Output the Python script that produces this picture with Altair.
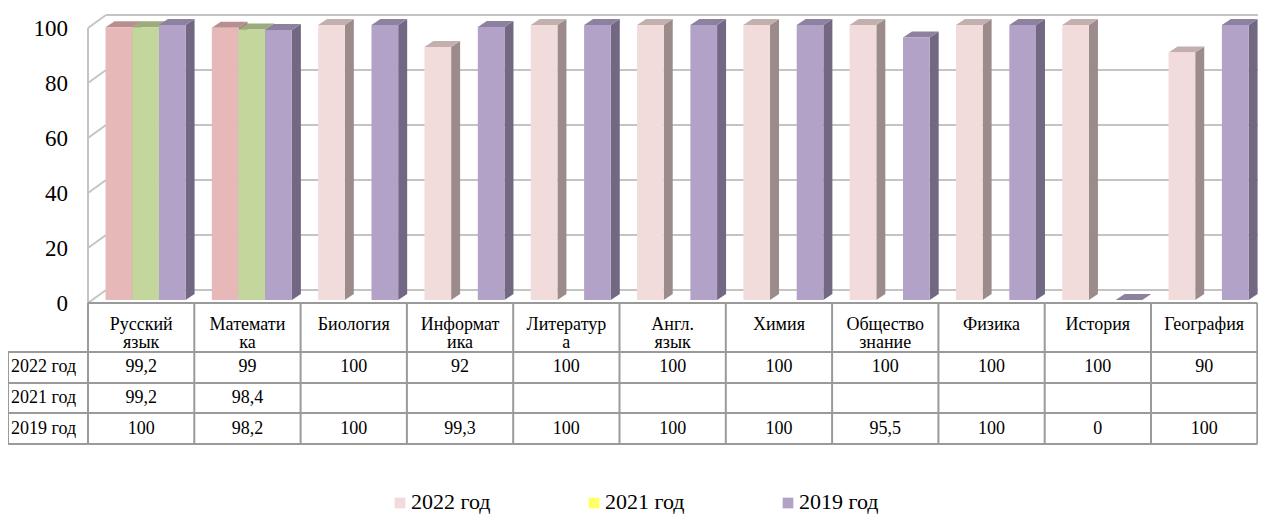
import altair as alt
import pandas as pd

# ---------------- data ----------------
categories = ["Русский\nязык", "Математи\nка", "Биология", "Информат\nика",
              "Литератур\nа", "Англ.\nязык", "Химия", "Общество\nзнание",
              "Физика", "История", "География"]
series = ["2022 год", "2021 год", "2019 год"]
values_2022 = [99.2, 99, 100, 92, 100, 100, 100, 100, 100, 100, 90]
values_2021 = [99.2, 98.4, None, None, None, None, None, None, None, None, None]
values_2019 = [100, 98.2, 100, 99.3, 100, 100, 100, 95.5, 100, 0, 100]
y_ticks = [0, 20, 40, 60, 80, 100]

values = {"2022 год": values_2022, "2021 год": values_2021, "2019 год": values_2019}

# ---------------- styles ----------------
FONT = "Liberation Serif, Times New Roman, Tinos, DejaVu Serif, serif"
front_col = {"2022 год": "#F2DCDB", "2021 год": "#C3D69B", "2019 год": "#B3A2C7"}
top_col = {"2022 год": "#C2AFAE", "2021 год": "#9BAB7B", "2019 год": "#8E819F"}
side_col = {"2022 год": "#9B8C8B", "2021 год": "#7C8A60", "2019 год": "#726883"}
# the first two 2022 bars are drawn in a stronger pink
strong_front, strong_top, strong_side = "#E6B9B8", "#B88F8E", "#9C7E7D"
strong_idx = {0, 1}
legend_col = {"2022 год": "#F2DCDB", "2021 год": "#FFFF66", "2019 год": "#B3A2C7"}
GRID = "#C4C4C4"
BORDER = "#9A9A9A"
TABLE_FS = 18
TICK_FS = 23
LEGEND_FS = 22

# ---------------- layout (page pixels -> data units) ----------------
W, H = 1250, 506
COL = 106.3          # px per category column
X0 = 88              # page x of first category column
PXY = 2.75           # px per value unit
ZERO = 300           # page y of value 0 (bar base)


def ux(px):
    return (px - X0) / COL


def uy(py):
    return (ZERO - py) / PXY


XMIN, XMAX = ux(8), ux(8 + W)
YMAX, YMIN = uy(8), uy(8 + H)
SLOT0, SLOT_W = 0.165, 0.251
DX, DY = 9 / COL, 6 / PXY

xs = alt.Scale(domain=[XMIN, XMAX], nice=False, zero=False)
ys = alt.Scale(domain=[YMIN, YMAX], nice=False, zero=False)


def X(f):
    return alt.X(f, type="quantitative", scale=xs, axis=None, stack=False)


def Y(f):
    return alt.Y(f, type="quantitative", scale=ys, axis=None, stack=False)


# ---------------- bars ----------------
fronts, sides, tops = [], [], []
for i, cat in enumerate(categories):
    for k, s in enumerate(series):
        v = values[s][i]
        if v is None:
            continue
        xl = i + SLOT0 + k * SLOT_W
        xr = xl + SLOT_W
        bid = f"{i:02d}-{k}"
        strong = (s == "2022 год" and i in strong_idx)
        fc = strong_front if strong else front_col[s]
        tc = strong_top if strong else top_col[s]
        sc = strong_side if strong else side_col[s]
        fronts.append(dict(x=xl, x2=xr, y=0, y2=v, c=fc, cat=cat.replace("\n", ""), s=s, v=v))
        sides.append(dict(bar=bid, x=xr, y=v, y2=0, c=sc))
        sides.append(dict(bar=bid, x=xr + DX, y=v + DY, y2=DY, c=sc))
        tops.append(dict(bar=bid, y=v, x=xl, x2=xr, c=tc))
        tops.append(dict(bar=bid, y=v + DY, x=xl + DX, x2=xr + DX, c=tc))

front_df, side_df, top_df = pd.DataFrame(fronts), pd.DataFrame(sides), pd.DataFrame(tops)

# ---------------- walls / grid ----------------
back_off = uy(290)      # back wall 0 level
front_off = uy(303)     # front plane 0 level
walls = []
for t in y_ticks:
    walls.append(dict(x=ux(106), x2=XMAX, y=t + back_off, y2=t + back_off))
    walls.append(dict(x=ux(88), x2=ux(106), y=t + front_off, y2=t + back_off))
walls.append(dict(x=ux(88), x2=ux(88), y=front_off, y2=100 + front_off))
wall_df = pd.DataFrame(walls)

# ---------------- table ----------------
row_lines_py = [303, 352, 383, 413, 444]
tbl = []
for j, py in enumerate(row_lines_py):
    tbl.append(dict(x=ux(88) if j == 0 else ux(8), x2=len(categories), y=uy(py), y2=uy(py)))
tbl.append(dict(x=ux(8), x2=ux(8), y=uy(352), y2=uy(444)))
for j in range(len(categories) + 1):
    tbl.append(dict(x=j, x2=j, y=uy(303), y2=uy(444)))
tbl_df = pd.DataFrame(tbl)

hdr = []
for i, cat in enumerate(categories):
    parts = cat.split("\n")
    for li, p in enumerate(parts):
        hdr.append(dict(x=i + 0.5, y=uy(325 + 18 * li), t=p))
hdr_df = pd.DataFrame(hdr)


def fmt(v):
    if v is None:
        return ""
    return f"{v:g}".replace(".", ",")


row_centers = [367, 398, 429]
cells, rlab = [], []
for r, s in enumerate(series):
    rlab.append(dict(x=ux(11), y=uy(row_centers[r]), t=s))
    for i in range(len(categories)):
        cells.append(dict(x=i + 0.5, y=uy(row_centers[r]), t=fmt(values[s][i])))
cell_df, rlab_df = pd.DataFrame(cells), pd.DataFrame(rlab)

tick_df = pd.DataFrame(dict(x=[ux(68)] * len(y_ticks), y=y_ticks, t=[str(t) for t in y_ticks]))

leg_df = pd.DataFrame(dict(
    sx=[ux(400 + 194 * k) for k in range(3)],
    tx=[ux(411 + 194 * k) for k in range(3)],
    y=[uy(503)] * 3, ty=[uy(509)] * 3,
    t=series, c=[legend_col[s] for s in series]))

# ---------------- layers ----------------
wall_layer = alt.Chart(wall_df).mark_rule(color=GRID, strokeWidth=2).encode(
    x=X("x"), x2="x2", y=Y("y"), y2="y2")

side_layer = alt.Chart(side_df).mark_area(orient="vertical").encode(
    x=X("x"), y=Y("y"), y2="y2", detail="bar:N",
    fill=alt.Fill("c:N", scale=None))

top_layer = alt.Chart(top_df).mark_area(orient="horizontal").encode(
    y=Y("y"), x=X("x"), x2="x2", detail="bar:N",
    fill=alt.Fill("c:N", scale=None))

front_layer = alt.Chart(front_df).mark_rect().encode(
    x=X("x"), x2="x2", y=Y("y"), y2="y2",
    fill=alt.Fill("c:N", scale=None),
    tooltip=[alt.Tooltip("cat:N"), alt.Tooltip("s:N"), alt.Tooltip("v:Q")])

tbl_layer = alt.Chart(tbl_df).mark_rule(color=BORDER, strokeWidth=2).encode(
    x=X("x"), x2="x2", y=Y("y"), y2="y2")

hdr_layer = alt.Chart(hdr_df).mark_text(font=FONT, fontSize=TABLE_FS, color="#000000",
                                        align="center", baseline="middle").encode(
    x=X("x"), y=Y("y"), text="t:N")

cell_layer = alt.Chart(cell_df).mark_text(font=FONT, fontSize=TABLE_FS, color="#000000",
                                          align="center", baseline="middle").encode(
    x=X("x"), y=Y("y"), text="t:N")

rlab_layer = alt.Chart(rlab_df).mark_text(font=FONT, fontSize=TABLE_FS, color="#000000",
                                          align="left", baseline="middle").encode(
    x=X("x"), y=Y("y"), text="t:N")

tick_layer = alt.Chart(tick_df).mark_text(font=FONT, fontSize=TICK_FS, color="#000000",
                                          align="right", baseline="middle", dy=4).encode(
    x=X("x"), y=Y("y"), text="t:N")

leg_sq = alt.Chart(leg_df).mark_square(size=115, opacity=1).encode(
    x=X("sx"), y=Y("y"), fill=alt.Fill("c:N", scale=None))

leg_tx = alt.Chart(leg_df).mark_text(font=FONT, fontSize=LEGEND_FS, color="#000000",
                                     align="left", baseline="alphabetic").encode(
    x=X("tx"), y=Y("ty"), text="t:N")

chart = alt.layer(
    wall_layer, side_layer, top_layer, front_layer, tbl_layer,
    hdr_layer, cell_layer, rlab_layer, tick_layer, leg_sq, leg_tx
).properties(
    width=W, height=H, padding=0, background="#FFFFFF",
    autosize=alt.AutoSizeParams(type="none")
).configure_view(stroke=None)

chart.save("out.html", embed_options={"renderer": "svg", "actions": False})
